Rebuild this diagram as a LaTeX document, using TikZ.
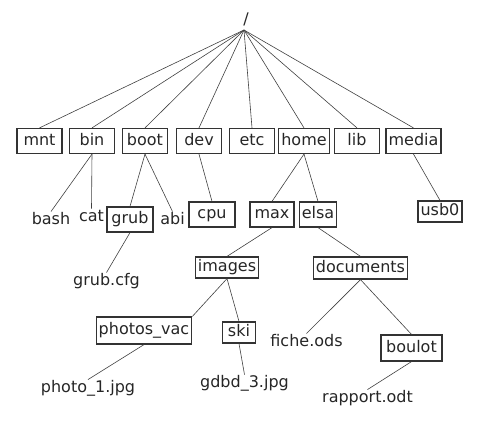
\documentclass[tikz,border=0pt]{standalone}
\usepackage{fontspec}
\setmainfont{DejaVu Sans}

\tikzset{
  every node/.style={font=\fontsize{16}{19}\selectfont, text=black!85, text height=12pt, text depth=3.5pt, inner sep=1pt},
  dir/.style={draw=black!80, line width=1.2pt, minimum height=25pt, inner xsep=2.5pt},
  topdir/.style={dir, minimum width=45pt},
  smalldir/.style={dir, minimum height=21pt},
  branch/.style={draw=black!75, line width=0.6pt}
}

\begin{document}
\begin{tikzpicture}[x=1pt, y=-1pt]
\useasboundingbox (0,0) rectangle (480,423);

\node (root) at (246,20) {/};
\coordinate (hub) at (244,30);

\foreach \name/\x in {mnt/39.5, bin/92, boot/145, dev/199, etc/252, home/304, lib/357, media/413.5} {
  \node[topdir] (\name) at (\x,141) {\name};
  \draw[branch] (hub) -- (\name.north);
}

\node (bash) at (51,220.5) {bash};
\node (cat) at (91.5,217.5) {cat};
\node[dir, minimum width=46pt] (grub) at (130,219.5) {grub};
\node (abi) at (172.5,220.5) {abi};
\node[dir, minimum width=46pt] (cpu) at (212,214.5) {cpu};
\node[dir, minimum width=44pt] (max) at (272,214.5) {max};
\node[dir] (elsa) at (318,214.5) {elsa};
\node[smalldir, minimum width=44pt] (usb0) at (440,211.5) {usb0};
\node (grubcfg) at (106.5,281.5) {grub.cfg};
\node[smalldir] (images) at (227,267.5) {images};
\node[smalldir, minimum height=22pt] (documents) at (360.5,268) {documents};
\node[dir, minimum height=27pt] (photos) at (144,330.5) {photos\_vac};
\node[smalldir, minimum width=33pt] (ski) at (239,332.5) {ski};
\node (fiche) at (306.5,342.5) {fiche.ods};
\node[dir, minimum width=61pt, minimum height=26pt] (boulot) at (411.5,348) {boulot};
\node (photo1) at (88,388.5) {photo\_1.jpg};
\node (gdbd) at (244.5,383.5) {gdbd\_3.jpg};
\node (rapport) at (367.5,398.5) {rapport.odt};

\draw[branch] (bin.south) -- (bash.north);
\draw[branch] (bin.south) -- (cat.north);
\draw[branch] (boot.south) -- (grub.north);
\draw[branch] (boot.south) -- (abi.north);
\draw[branch] (dev.south) -- (cpu.north);
\draw[branch] (home.south) -- (max.north);
\draw[branch] (home.south) -- (elsa.north);
\draw[branch] (media.south) -- (usb0.north);
\draw[branch] (grub.south) -- (grubcfg.north);
\draw[branch] (max.south) -- (images.north);
\draw[branch] (elsa.south) -- (documents.north);
\draw[branch] (images.south) -- (photos.north east);
\draw[branch] (images.south) -- (ski.north);
\draw[branch] (documents.south) -- (fiche.north);
\draw[branch] (documents.south) -- (boulot.north);
\draw[branch] (photos.south) -- (photo1.north);
\draw[branch] (ski.south) -- (gdbd.north);
\draw[branch] (boulot.south) -- (rapport.north);
\end{tikzpicture}
\end{document}
